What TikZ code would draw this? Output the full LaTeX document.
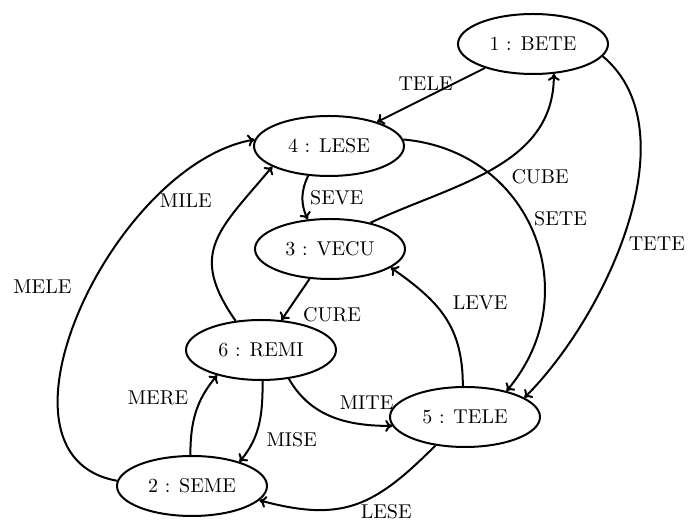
\documentclass[tikz,border=0pt]{standalone}
\usetikzlibrary{shapes.geometric, arrows.meta}

\begin{document}
\begin{tikzpicture}[
    x = 0.5pt, y = 0.5pt,
    wordnode/.style = {draw, ellipse, line width = 1pt,
        minimum width = 75pt, minimum height = 30pt},
    trans/.style = {-{To[length=3.5pt, width=6pt]}, line width = 1pt}]

\useasboundingbox (0,0) rectangle (693,525);

\node[wordnode] (bete) at (533,481) {1 : BETE};
\node[wordnode] (lese) at (329,379) {4 : LESE};
\node[wordnode] (vecu) at (330,276) {3 : VECU};
\node[wordnode] (remi) at (261,175) {6 : REMI};
\node[wordnode] (tele) at (465,108) {5 : TELE};
\node[wordnode] (seme) at (192,39) {2 : SEME};

\draw[trans] (bete) -- node[above, pos=0.55] {TELE} (lese);
\draw[trans] (bete.-10) to[out=-40, in=45, looseness=0.85] node[right, pos=0.55] {TETE} (tele.18);
\draw[trans] (lese.-125) to[bend right=25] node[right] {SEVE} (vecu.127);
\draw[trans] (lese.5) to[out=-5, in=50, looseness=1.2] node[right, pos=0.45] {SETE} (tele.32);
\draw[trans] (vecu.33) to[out=25, in=-90] node[below right, pos=0.55] {CUBE} (bete.-55);
\draw[trans] (vecu) -- node[below right] {CURE} (remi);
\draw[trans] (remi.131) to[out=125, in=-130, looseness=1.35] node[left=12pt, pos=0.8] {MILE} (lese.-160);
\draw[trans] (tele.94) to[out=90, in=-35, looseness=1.1] node[above right] {LEVE} (vecu.-17);
\draw[trans] (remi.-46) to[out=-60, in=180] node[above right] {MITE} (tele.-173);
\draw[trans] (remi.-87) to[out=-90, in=50] node[below right] {MISE} (seme.27);
\draw[trans] (seme.93) to[out=90, in=-130] node[above left] {MERE} (remi.-150);
\draw[trans] (seme.176) to[out=170, in=190] node[left=6pt, pos=0.55] {MELE} (lese.175);
\draw[trans] (tele.-136) to[out=-135, in=-15, looseness=1.2] node[below=4pt, pos=0.3] {LESE} (seme.-12);
\end{tikzpicture}
\end{document}
